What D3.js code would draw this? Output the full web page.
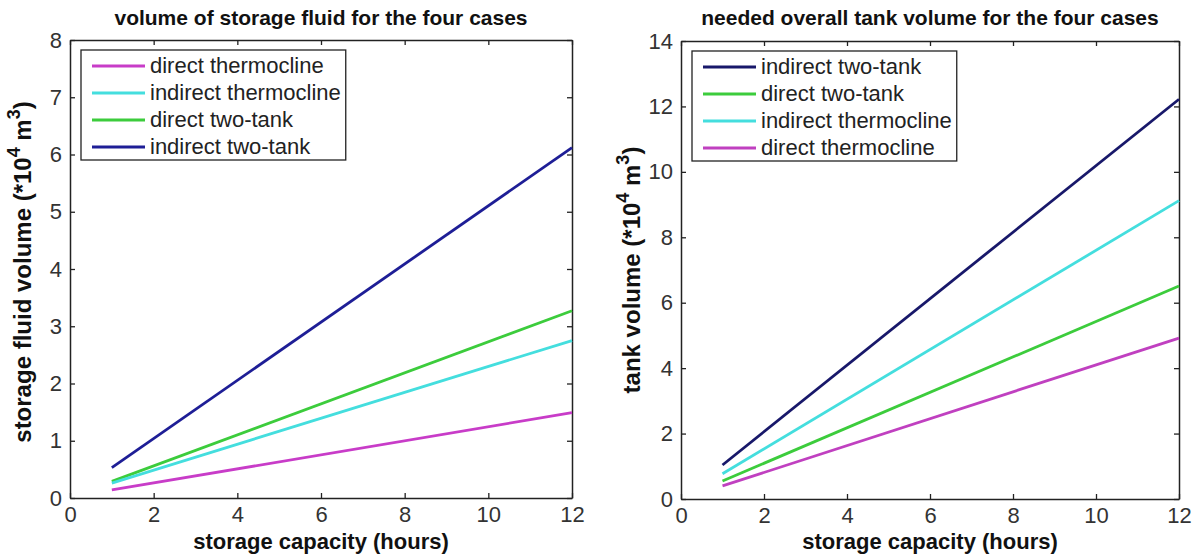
<!DOCTYPE html>
<html>
<head>
<meta charset="utf-8">
<script src="https://d3js.org/d3.v7.min.js"></script>
<style>
  html, body { margin: 0; padding: 0; background: #fff; }
  svg { display: block; font-family: Arial, "Liberation Sans", Helvetica, sans-serif; }
</style>
</head>
<body>
<script>
// hours of storage (line end points)
var hours = [1, 12];

// left panel: volume of storage fluid (*10^4 m^3)
var fluidSeries = [
  { name: 'direct thermocline', color: '#c83cc8', values: [0.14, 1.49] },
  { name: 'indirect thermocline', color: '#44dede', values: [0.26, 2.75] },
  { name: 'direct two-tank', color: '#3ccc3c', values: [0.29, 3.27] },
  { name: 'indirect two-tank', color: '#1e1e96', values: [0.53, 6.12] }
];

// right panel: needed overall tank volume (*10^4 m^3)
var tankSeries = [
  { name: 'indirect two-tank', color: '#18186a', values: [1.04, 12.22] },
  { name: 'direct two-tank', color: '#3ccc3c', values: [0.55, 6.51] },
  { name: 'indirect thermocline', color: '#44dede', values: [0.77, 9.12] },
  { name: 'direct thermocline', color: '#c040c0', values: [0.40, 4.92] }
];

var xTicks = [0, 2, 4, 6, 8, 10, 12];
var fluidTicks = [0, 1, 2, 3, 4, 5, 6, 7, 8];
var tankTicks = [0, 2, 4, 6, 8, 10, 12, 14];

var W = 1197, H = 554;
var svg = d3.select('body').append('svg').attr('width', W).attr('height', H);

function panel(opt) {
  var x = d3.scaleLinear().domain([0, 12]).range([opt.left, opt.right]);
  var y = d3.scaleLinear().domain([0, opt.yMax]).range([opt.bottom, opt.top]);
  var g = svg.append('g');

  // frame axes with inward ticks
  var bottom = g.append('g').attr('transform', 'translate(0,' + opt.bottom + ')')
    .call(d3.axisBottom(x).tickValues(xTicks).tickSizeInner(-5).tickSizeOuter(0).tickPadding(8));
  var top = g.append('g').attr('transform', 'translate(0,' + opt.top + ')')
    .call(d3.axisTop(x).tickValues(xTicks).tickSizeInner(-5).tickSizeOuter(0).tickFormat(''));
  var left = g.append('g').attr('transform', 'translate(' + opt.left + ',0)')
    .call(d3.axisLeft(y).tickValues(opt.yTicks).tickSizeInner(-5).tickSizeOuter(0).tickPadding(8));
  var right = g.append('g').attr('transform', 'translate(' + opt.right + ',0)')
    .call(d3.axisRight(y).tickValues(opt.yTicks).tickSizeInner(-5).tickSizeOuter(0).tickFormat(''));

  [bottom, top, left, right].forEach(function (a) {
    a.select('.domain').attr('stroke', '#222').attr('stroke-width', 1.5);
    a.selectAll('.tick line').attr('stroke', '#222').attr('stroke-width', 1.3);
    a.selectAll('.tick text').attr('fill', '#333').style('font-size', '22px');
  });

  // lines
  var line = d3.line()
    .x(function (d, i) { return x(hours[i]); })
    .y(function (d) { return y(d); });

  opt.series.slice().reverse().forEach(function (s) {
    g.append('path')
      .attr('d', line(s.values))
      .attr('fill', 'none')
      .attr('stroke', s.color)
      .attr('stroke-width', 2.8);
  });

  // title
  g.append('text')
    .attr('x', (opt.left + opt.right) / 2)
    .attr('y', 25)
    .attr('text-anchor', 'middle')
    .style('font-size', '21px')
    .style('font-weight', 'bold')
    .attr('fill', '#111')
    .text(opt.title);

  // x label
  g.append('text')
    .attr('x', (opt.left + opt.right) / 2)
    .attr('y', 549)
    .attr('text-anchor', 'middle')
    .style('font-size', '22px')
    .style('font-weight', 'bold')
    .attr('fill', '#111')
    .text('storage capacity (hours)');

  // y label with superscripts
  var yl = g.append('text')
    .attr('transform', 'translate(' + opt.yLabelX + ',' + opt.yLabelY + ') rotate(-90)')
    .attr('text-anchor', 'middle')
    .style('font-size', '24px')
    .style('font-weight', 'bold')
    .attr('fill', '#111');
  yl.append('tspan').text(opt.yLabel + ' (*10');
  yl.append('tspan').attr('dy', -11).style('font-size', '18px').text('4');
  yl.append('tspan').attr('dy', 11).text(' m');
  yl.append('tspan').attr('dy', -11).style('font-size', '18px').text('3');
  yl.append('tspan').attr('dy', 11).text(')');

  // legend
  var lg = g.append('g');
  var box = lg.append('rect')
    .attr('x', opt.left + 11).attr('y', opt.top + 10)
    .attr('fill', '#fff').attr('stroke', '#222').attr('stroke-width', 1.3);
  var maxW = 0;
  opt.series.forEach(function (s, i) {
    var cy = opt.top + 26 + i * 27;
    lg.append('line')
      .attr('x1', opt.left + 22).attr('x2', opt.left + 75)
      .attr('y1', cy).attr('y2', cy)
      .attr('stroke', s.color).attr('stroke-width', 2.8);
    var t = lg.append('text')
      .attr('x', opt.left + 80).attr('y', cy + 7)
      .style('font-size', '22px')
      .attr('fill', '#222')
      .text(s.name);
    maxW = Math.max(maxW, t.node().getComputedTextLength());
  });
  box.attr('width', 80 + maxW + 5 - 11).attr('height', 110);
}

panel({
  left: 70, right: 572, top: 40, bottom: 498, yMax: 8, yTicks: fluidTicks,
  series: fluidSeries,
  title: 'volume of storage fluid for the four cases',
  yLabel: 'storage fluid volume', yLabelX: 31, yLabelY: 272
});

panel({
  left: 681, right: 1179, top: 41, bottom: 499, yMax: 14, yTicks: tankTicks,
  series: tankSeries,
  title: 'needed overall tank volume for the four cases',
  yLabel: 'tank volume', yLabelX: 640, yLabelY: 270
});
</script>
</body>
</html>
